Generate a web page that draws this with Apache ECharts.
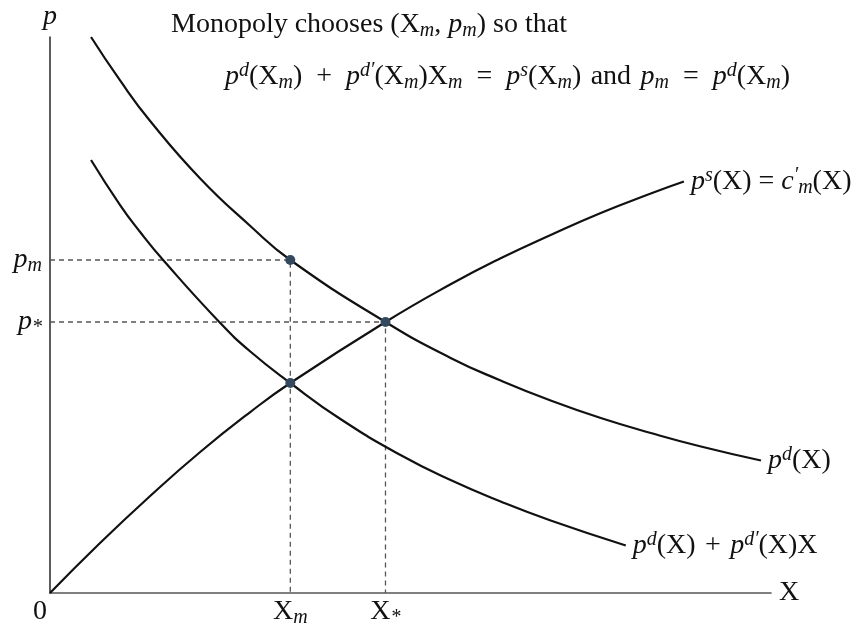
<!DOCTYPE html>
<html>
<head>
<meta charset="utf-8">
<script src="https://cdn.jsdelivr.net/npm/echarts@6/dist/echarts.min.js"></script>
<style>
  html, body { margin: 0; padding: 0; background: #fff; }
  #chart { width: 861px; height: 632px; }
</style>
</head>
<body>
<div id="chart"></div>
<script>
// curve points (x: quantity, y: price)
const demandX = [0.569, 0.972, 1.389, 2.083, 2.778, 3.333, 4.653, 5.556, 6.25, 6.944, 7.639, 8.333, 9.028, 9.861]
const demandY = [10.0, 9.218, 8.489, 7.455, 6.601, 5.989, 4.874, 4.227, 3.822, 3.462, 3.147, 2.878, 2.635, 2.383]
const mrX = [0.569, 0.972, 1.25, 1.569, 2.361, 2.778, 3.333, 4.028, 4.861, 5.556, 6.25, 6.944, 7.986]
const mrY = [7.788, 6.978, 6.493, 5.989, 4.856, 4.343, 3.777, 3.129, 2.482, 2.032, 1.646, 1.304, 0.854]
const supplyX = [0, 0.694, 1.389, 2.083, 2.778, 3.333, 4.653, 5.556, 6.25, 6.944, 7.639, 8.333, 8.792]
const supplyY = [0, 0.899, 1.745, 2.536, 3.255, 3.777, 4.874, 5.552, 6.02, 6.439, 6.835, 7.185, 7.40]

// key quantities
const Xm = 3.333
const pm = 5.989
const mrAtXm = 3.777
const Xstar = 4.653
const pstar = 4.874

const serif = 'Liberation Serif'
const fs = 28
const ink = '#111'
const sp = '\u2004'   // wider space round operators, like math spacing
const wide = '\u2002'

const tok = (size, style, extra) => Object.assign({
  fontFamily: serif, fontSize: size, fontStyle: style, fontWeight: 'normal', color: ink
}, extra)

const rich = {
  r: tok(fs, 'normal', { lineHeight: 32 }),
  i: tok(fs, 'italic', { lineHeight: 32 }),
  sub: tok(20, 'italic', { lineHeight: 20, verticalAlign: 'bottom' }),
  sup: tok(20, 'italic', { lineHeight: 20, verticalAlign: 'top' }),
  zero: tok(fs, 'normal', { lineHeight: 32, padding: [0, 20, 0, 0] })
}

const zip = (xs, ys) => xs.map((x, k) => [x, ys[k]])

const curve = (data, label) => ({
  type: 'line',
  data: data,
  smooth: 0.5,
  symbol: 'none',
  lineStyle: { color: ink, width: 2.2 },
  endLabel: { show: true, distance: 7, formatter: label, rich: rich },
  z: 3
})

const guide = data => ({
  type: 'line',
  data: data,
  symbol: 'none',
  lineStyle: { color: '#555', width: 1.3, type: [5, 4] },
  z: 2
})

const chart = echarts.init(document.getElementById('chart'))
chart.setOption({
  animation: false,
  title: [
    {
      text: '{r|Monopoly chooses (X}{sub|m}{r|, }{i|p}{sub|m}{r|) so that}',
      left: 166, top: 4,
      textStyle: { rich: rich }
    },
    {
      text: '{i|p}{sup|d}{r|(X}{sub|m}{r|)' + wide + '+' + wide + '}{i|p}{sup|d′}{r|(X}{sub|m}{r|)X}{sub|m}{r|' + wide + '=' + wide + '}{i|p}{sup|s}{r|(X}{sub|m}{r|)' + sp + 'and' + sp + '}{i|p}{sub|m}{r|' + wide + '=' + wide + '}{i|p}{sup|d}{r|(X}{sub|m}{r|)}',
      left: 220, top: 56,
      textStyle: { rich: rich }
    }
  ],
  grid: { left: 50, right: 90, top: 37, bottom: 39 },
  xAxis: {
    type: 'value', min: 0, max: 10,
    name: 'X', nameLocation: 'end', nameGap: 8,
    nameTextStyle: { fontFamily: serif, fontSize: fs, color: ink, verticalAlign: 'middle' },
    axisLine: { lineStyle: { color: '#555', width: 1.6 } },
    axisTick: { show: false },
    splitLine: { show: false },
    axisLabel: {
      customValues: [0, Xm, Xstar],
      margin: 3,
      formatter: v => v === 0 ? '{zero|0}' : (Math.abs(v - Xm) < 0.01 ? '{r|X}{sub|m}' : '{r|X}{sub|*}'),
      rich: rich
    }
  },
  yAxis: {
    type: 'value', min: 0, max: 10,
    name: 'p', nameLocation: 'end', nameGap: 6,
    nameTextStyle: { fontFamily: serif, fontSize: fs, fontStyle: 'italic', color: ink, align: 'center' },
    axisLine: { show: true, lineStyle: { color: '#333', width: 1.6 } },
    axisTick: { show: false },
    splitLine: { show: false },
    axisLabel: {
      customValues: [pstar, pm],
      margin: 8,
      formatter: v => Math.abs(v - pm) < 0.01 ? '{i|p}{sub|m}' : '{i|p}{sub|*}',
      rich: rich
    }
  },
  series: [
    guide([[0, pm], [Xm, pm], [Xm, 0]]),
    guide([[0, pstar], [Xstar, pstar], [Xstar, 0]]),
    curve(zip(demandX, demandY), '{i|p}{sup|d}{r|(X)}'),
    curve(zip(mrX, mrY), '{i|p}{sup|d}{r|(X)' + sp + '+' + sp + '}{i|p}{sup|d′}{r|(X)X}'),
    curve(zip(supplyX, supplyY), '{i|p}{sup|s}{r|(X) = }{i|c}{sup|′}{sub|m}{r|(X)}'),
    {
      type: 'scatter',
      data: [[Xm, pm], [Xstar, pstar], [Xm, mrAtXm]],
      symbolSize: 10,
      itemStyle: { color: '#34495e', opacity: 1 },
      z: 5
    }
  ]
})
</script>
</body>
</html>
